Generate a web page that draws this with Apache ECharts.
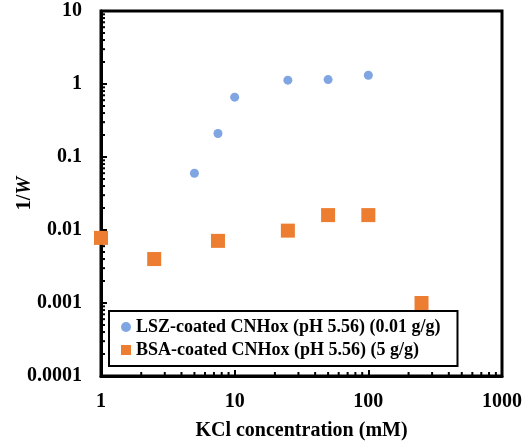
<!DOCTYPE html>
<html>
<head>
<meta charset="utf-8">
<script src="https://cdn.jsdelivr.net/npm/echarts@6/dist/echarts.min.js"></script>
<style>
html,body{margin:0;padding:0;background:#fff;}
#chart{width:532px;height:446px;}
</style>
</head>
<body>
<div id="chart"></div>
<script>
// ---- data ----
const lszName = 'LSZ-coated CNHox (pH 5.56) (0.01 g/g)';
const bsaName = 'BSA-coated CNHox (pH 5.56) (5 g/g)';
const lszX = [5, 7.5, 10, 25, 50, 100];
const lszY = [0.06, 0.21, 0.66, 1.13, 1.15, 1.32];
const bsaX = [1, 2.5, 7.5, 25, 50, 100, 250];
const bsaY = [0.0078, 0.004, 0.0071, 0.0098, 0.016, 0.016, 0.001];
const xTickLabels = ['1', '10', '100', '1000'];
const yTickLabels = ['0.0001', '0.001', '0.01', '0.1', '1', '10'];
const xDecades = [1, 10, 100];
const yDecades = [0.0001, 0.001, 0.01, 0.1, 1];
const minorMult = [2, 3, 4, 5, 6, 7, 8, 9];

const xMin = 1, xMax = 1000, yMin = 0.0001, yMax = 10;

const minorData = [];
xDecades.forEach(d => minorMult.forEach(m => minorData.push([d * m, yMin, 0])));
yDecades.forEach(d => minorMult.forEach(m => minorData.push([xMin, d * m, 1])));

const serif = '"Liberation Serif", "Times New Roman", serif';

const chart = echarts.init(document.getElementById('chart'), null, {renderer: 'canvas'});
chart.setOption({
  animation: false,
  backgroundColor: '#fff',
  grid: {left: 101, top: 11, right: 30, bottom: 70, show: true, borderColor: '#000', borderWidth: 3, containLabel: false, outerBoundsMode: 'none'},
  xAxis: {
    type: 'log', logBase: 10, min: xMin, max: xMax,
    name: 'KCl concentration (mM)', nameLocation: 'middle', nameGap: 45,
    nameTextStyle: {fontFamily: serif, fontWeight: 'bold', fontSize: 20, color: '#000'},
    axisLine: {show: true, lineStyle: {color: '#000', width: 3}},
    axisTick: {show: true, inside: true, length: 6, lineStyle: {color: '#000', width: 2}},
    axisLabel: {
      fontFamily: serif, fontWeight: 'bold', fontSize: 20, color: '#000', margin: 16,
      formatter: v => xTickLabels[Math.round(Math.log10(v))] || ''
    },
    splitLine: {show: false}
  },
  yAxis: {
    type: 'log', logBase: 10, min: yMin, max: yMax,
    name: '{a|1/}{b|W}', nameLocation: 'middle', nameGap: 66, nameRotate: 90, nameMoveOverlap: false,
    nameTextStyle: {
      fontFamily: serif, fontWeight: 'bold', fontSize: 20, color: '#000',
      rich: {
        a: {fontFamily: serif, fontWeight: 'bold', fontSize: 20, color: '#000'},
        b: {fontFamily: serif, fontWeight: 'bold', fontStyle: 'italic', fontSize: 20, color: '#000'}
      }
    },
    axisLine: {show: true, lineStyle: {color: '#000', width: 3}},
    axisTick: {show: true, inside: true, length: 6, lineStyle: {color: '#000', width: 2}},
    axisLabel: {
      fontFamily: serif, fontWeight: 'bold', fontSize: 20, color: '#000', margin: 19,
      formatter: v => yTickLabels[Math.round(Math.log10(v)) + 4] || ''
    },
    splitLine: {show: false}
  },
  legend: {
    orient: 'vertical', left: 109, top: 311,
    data: [{name: lszName, icon: 'circle'}, {name: bsaName, icon: 'rect'}],
    itemWidth: 10, itemHeight: 10, itemGap: 3,
    padding: [6, 17, 6, 12],
    borderColor: '#000', borderWidth: 2, backgroundColor: '#fff',
    textStyle: {fontFamily: serif, fontWeight: 'bold', fontSize: 18, color: '#000', lineHeight: 20},
    selectedMode: false
  },
  series: [
    {
      type: 'custom', silent: true, z: 1,
      data: minorData,
      renderItem: (params, api) => {
        const p = api.coord([api.value(0), api.value(1)]);
        const isY = api.value(2) === 1;
        return {
          type: 'line',
          shape: isY ? {x1: p[0], y1: p[1], x2: p[0] + 4, y2: p[1]} : {x1: p[0], y1: p[1], x2: p[0], y2: p[1] - 4},
          style: {stroke: '#000', lineWidth: 2}
        };
      }
    },
    {
      name: lszName, type: 'scatter', symbol: 'circle', symbolSize: 9, z: 3,
      itemStyle: {color: '#7FA5E2', opacity: 1},
      data: lszX.map((x, i) => [x, lszY[i]])
    },
    {
      name: bsaName, type: 'scatter', symbol: 'rect', symbolSize: 14, z: 3,
      itemStyle: {color: '#ED7D31', opacity: 1},
      data: bsaX.map((x, i) => [x, bsaY[i]])
    }
  ]
});
</script>
</body>
</html>
